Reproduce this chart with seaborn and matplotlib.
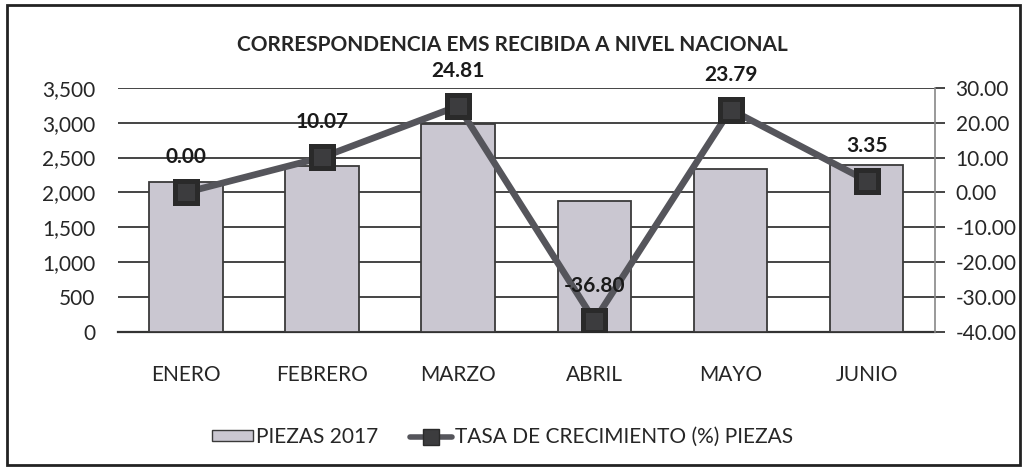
import matplotlib
matplotlib.use("Agg")
import matplotlib.pyplot as plt
from matplotlib.patches import Rectangle
from matplotlib.lines import Line2D
from matplotlib.ticker import FuncFormatter
import seaborn as sns

# ----- DATA -----
meses = ["ENERO", "FEBRERO", "MARZO", "ABRIL", "MAYO", "JUNIO"]
piezas_2017 = [2150, 2380, 2980, 1880, 2330, 2400]
tasa_crecimiento = [0.00, 10.07, 24.81, -36.80, 23.79, 3.35]

titulo = "CORRESPONDENCIA EMS RECIBIDA A NIVEL NACIONAL"
leyenda_barras = "PIEZAS 2017"
leyenda_linea = "TASA DE CRECIMIENTO (%) PIEZAS"

# ----- STYLE -----
sns.set_style("white")
plt.rcParams["font.family"] = ["Lato", "DejaVu Sans"]
plt.rcParams["axes.unicode_minus"] = False
bar_color = "#cac7d1"
line_color = "#55555b"
grid_color = "#444444"
fs = 15

fig = plt.figure(figsize=(10.25, 4.7), dpi=100)
ax = fig.add_axes([0.115, 0.294, 0.797, 0.519])

# bars on the left axis
sns.barplot(x=meses, y=piezas_2017, ax=ax, color=bar_color, width=0.54,
            edgecolor="#3a3a3a", linewidth=1.3, saturation=1, zorder=3)
ax.set_ylim(0, 3500)
ax.set_yticks(range(0, 3501, 500))
ax.yaxis.set_major_formatter(FuncFormatter(lambda v, p: f"{int(v):,}"))
ax.grid(axis="y", color=grid_color, linewidth=1.4, zorder=0)
ax.set_axisbelow(True)
for side in ["left", "top", "right"]:
    ax.spines[side].set_visible(False)
ax.spines["bottom"].set_color("#333333")
ax.spines["bottom"].set_linewidth(1.6)
ax.tick_params(axis="y", length=0, labelsize=fs, pad=16)
ax.tick_params(axis="x", length=0, labelsize=fs, pad=24)

# growth rate on the right axis
ax2 = ax.twinx()
sns.pointplot(x=meses, y=tasa_crecimiento, ax=ax2, color=line_color,
              markers="s", linewidth=4.8, markersize=16,
              markeredgecolor="#2a2a2a", markerfacecolor="#3c3c3e")
ax2.set_ylim(-40, 30)
ax2.set_yticks(range(-40, 31, 10))
ax2.yaxis.set_major_formatter(FuncFormatter(lambda v, p: f"{v:.2f}"))
for side in ["left", "top", "bottom"]:
    ax2.spines[side].set_visible(False)
ax2.spines["right"].set_color("#888888")
ax2.spines["right"].set_linewidth(1.2)
ax2.tick_params(axis="y", length=7, color=grid_color, width=1.4,
                labelsize=fs, pad=8)
ax2.set_xlim(-0.5, len(meses) - 0.5)
ax.set_xlim(-0.5, len(meses) - 0.5)
ax.set_xlabel("")
ax2.set_ylabel("")

for i, val in enumerate(tasa_crecimiento):
    ax2.annotate(f"{val:.2f}", (i, val), xytext=(0, 35),
                 textcoords="offset pixels", ha="center", va="center",
                 fontsize=fs, fontweight="bold", color="#1a1a1a")

# title
fig.text(0.5, 0.904, titulo, ha="center", va="center",
         fontsize=fs, fontweight="bold")

# legend
handles = [
    Rectangle((0, 0), 1, 1, facecolor=bar_color, edgecolor="#3a3a3a"),
    Line2D([0], [0], color=line_color, linewidth=4, marker="s",
           markersize=11, markerfacecolor="#3c3c3e", markeredgecolor="#2a2a2a"),
]
fig.legend(handles, [leyenda_barras, leyenda_linea], loc="center",
           bbox_to_anchor=(0.49, 0.07), ncol=2, frameon=False,
           fontsize=fs, handlelength=2.0, handleheight=0.45,
           columnspacing=1.5, handletextpad=0.15)

# outer frame
fig.patches.append(Rectangle((0.007, 0.01), 0.988, 0.98, transform=fig.transFigure,
                             fill=False, edgecolor="#222222", linewidth=2))

fig.savefig("out.png", dpi=100)
